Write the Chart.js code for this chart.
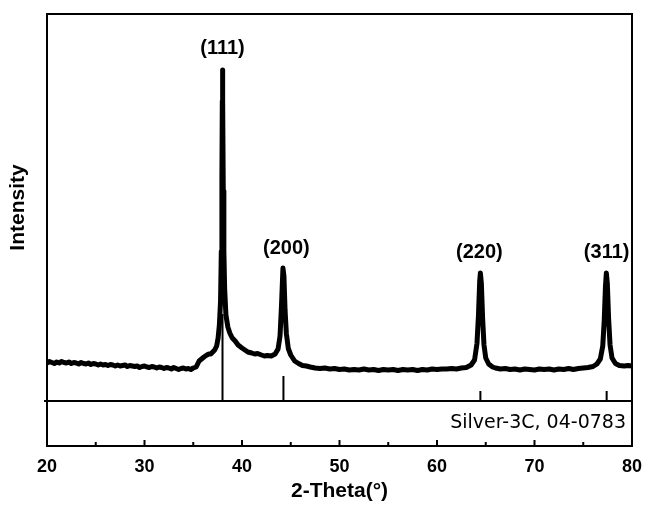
<!DOCTYPE html>
<html>
<head>
<meta charset="utf-8">
<script src="https://cdn.jsdelivr.net/npm/chart.js@4.4.1/dist/chart.umd.min.js"></script>
<style>
  html, body { margin: 0; padding: 0; background: #fff; }
  #wrap { width: 647px; height: 506px; }
</style>
</head>
<body>
<div id="wrap"><canvas id="xrd"></canvas></div>
<script>
// measured pattern (2-theta in degrees, intensity in arbitrary units)
const twoTheta = [
  20.0, 20.25, 20.5, 20.75, 21.0, 21.25, 21.5, 21.75, 22.0, 22.25, 22.5, 22.75, 23.0, 23.25, 23.5,
  23.75, 24.0, 24.25, 24.5, 24.75, 25.0, 25.25, 25.5, 25.75, 26.0, 26.25, 26.5, 26.75, 27.0, 27.25,
  27.5, 27.75, 28.0, 28.25, 28.5, 28.75, 29.0, 29.25, 29.5, 29.75, 30.0, 30.25, 30.5, 30.75, 31.0,
  31.25, 31.5, 31.75, 32.0, 32.25, 32.5, 32.75, 33.0, 33.25, 33.5, 33.75, 34.0, 34.25, 34.5, 34.75,
  35.0, 35.3, 35.6, 35.85, 36.1, 36.4, 36.6, 36.8, 37.0, 37.2, 37.4, 37.55, 37.68, 37.8, 37.88,
  37.94, 37.98, 38.0, 38.03, 38.08, 38.14, 38.22, 38.35, 38.55, 38.75, 39.0, 39.3, 39.6, 40.0, 40.3,
  40.6, 41.0, 41.3, 41.6, 42.0, 42.3, 42.6, 43.0, 43.4, 43.7, 43.9, 44.05, 44.2, 44.3, 44.42, 44.55,
  44.75, 45.0, 45.4, 45.8, 46.2, 46.6, 47.0, 47.5, 48.0, 48.5, 49.0, 49.5, 50.0, 50.5, 51.0, 51.5,
  52.0, 52.5, 53.0, 53.5, 54.0, 54.5, 55.0, 55.5, 56.0, 56.5, 57.0, 57.5, 58.0, 58.5, 59.0, 59.5,
  60.0, 60.5, 61.0, 61.5, 62.0, 62.5, 63.0, 63.5, 63.85, 64.1, 64.25, 64.38, 64.45, 64.55, 64.68,
  64.82, 65.0, 65.3, 65.7, 66.0, 66.5, 67.0, 67.5, 68.0, 68.5, 69.0, 69.5, 70.0, 70.5, 71.0, 71.5,
  72.0, 72.5, 73.0, 73.5, 74.0, 74.5, 75.0, 75.5, 76.0, 76.4, 76.75, 77.0, 77.15, 77.28, 77.37,
  77.47, 77.6, 77.75, 77.95, 78.3, 78.7, 79.2, 79.6, 80.0
];
const intensity = [
  76, 79, 77, 75, 78, 76, 79, 77, 76, 78, 75, 77, 76, 74, 77,
  75, 74, 76, 73, 75, 74, 72, 74, 72, 73, 71, 73, 72, 70, 72,
  70, 71, 72, 69, 71, 70, 69, 70, 67, 69, 70, 68, 67, 69, 68,
  66, 68, 67, 65, 67, 66, 64, 67, 65, 63, 65, 66, 64, 65, 63,
  66, 68, 80, 84, 88, 92, 94, 94, 98, 102, 110, 126, 152, 200, 300,
  450, 600, 662, 600, 420, 300, 225, 172, 148, 136, 126, 120, 112, 106, 102,
  98, 96, 94, 95, 92, 90, 91, 90, 94, 104, 130, 190, 266, 250, 180, 135,
  105, 92, 80, 75, 71, 70, 68, 66, 65, 66, 64, 65, 63, 64, 62, 63,
  62, 64, 62, 63, 61, 63, 62, 63, 61, 63, 62, 63, 61, 63, 62, 64,
  63, 64, 64, 65, 64, 66, 67, 72, 82, 115, 170, 240, 256, 235, 165,
  112, 86, 74, 68, 66, 64, 65, 63, 64, 62, 64, 63, 62, 64, 63, 64,
  62, 64, 63, 65, 63, 65, 66, 67, 69, 74, 84, 110, 160, 230, 256,
  235, 165, 112, 86, 75, 71, 70, 71, 70
];

// reference card Silver-3C, 04-0783
const refPos = [38.0, 44.25, 64.45, 77.4];
const refInt = [174, 50, 20, 20];
const refName = 'Silver-3C, 04-0783';

// peak labels
const peakLabels = ['(111)', '(200)', '(220)', '(311)'];
const peakLabelX = [38.0, 44.55, 64.35, 77.4];
const peakLabelY = [706, 306, 298, 298];

const xTicks = [20, 30, 40, 50, 60, 70, 80];

const pattern = twoTheta.map((t, i) => ({ x: t, y: intensity[i] }));
const sticks = [];
refPos.forEach((p, i) => {
  sticks.push({ x: p, y: 0 }, { x: p, y: refInt[i] }, { x: p, y: null });
});

const decor = {
  id: 'decor',
  afterDatasetsDraw(chart) {
    const { ctx, chartArea: a, scales: { x, y } } = chart;
    ctx.save();
    ctx.strokeStyle = '#000';
    ctx.fillStyle = '#000';
    ctx.lineWidth = 2;
    ctx.strokeRect(a.left, a.top, a.right - a.left, a.bottom - a.top);
    // divider between pattern and reference card
    const y0 = y.getPixelForValue(0);
    ctx.beginPath();
    ctx.moveTo(a.left - 3, y0);
    ctx.lineTo(a.right, y0);
    ctx.stroke();
    // inward ticks on the bottom axis
    for (let v = 20; v <= 80; v += 5) {
      const px = x.getPixelForValue(v);
      const len = v % 10 === 0 ? 6 : 4;
      ctx.beginPath();
      ctx.moveTo(px, a.bottom);
      ctx.lineTo(px, a.bottom - len);
      ctx.stroke();
    }
    // peak labels
    ctx.font = 'bold 20px "Liberation Sans", Arial, sans-serif';
    ctx.textAlign = 'center';
    ctx.textBaseline = 'middle';
    peakLabels.forEach((t, i) => {
      ctx.fillText(t, x.getPixelForValue(peakLabelX[i]), y.getPixelForValue(peakLabelY[i]));
    });
    // card name
    ctx.font = '19px "DejaVu Sans", sans-serif';
    ctx.textAlign = 'right';
    ctx.fillText(refName, a.right - 6, (y0 + a.bottom) / 2);
    // y title, centred on the pattern panel
    ctx.translate(18, (a.top + y0) / 2);
    ctx.rotate(-Math.PI / 2);
    ctx.font = 'bold 21px "Liberation Sans", Arial, sans-serif';
    ctx.textAlign = 'center';
    ctx.fillText('Intensity', 0, 0);
    ctx.restore();
  }
};

new Chart(document.getElementById('xrd'), {
  type: 'line',
  data: {
    datasets: [
      {
        data: pattern,
        borderColor: '#000',
        borderWidth: 5,
        borderJoinStyle: 'round',
        pointRadius: 0,
        tension: 0
      },
      {
        data: sticks,
        borderColor: '#000',
        borderWidth: 2,
        pointRadius: 0,
        spanGaps: false
      }
    ]
  },
  options: {
    responsive: true,
    maintainAspectRatio: false,
    animation: false,
    layout: { padding: { top: 14, right: 15, left: 0, bottom: 0 } },
    plugins: { legend: { display: false }, tooltip: { enabled: false } },
    scales: {
      x: {
        type: 'linear',
        min: 20,
        max: 80,
        afterBuildTicks(s) { s.ticks = xTicks.map(v => ({ value: v })); },
        afterFit(s) { s.height = 60; s.paddingLeft = 0; s.paddingRight = 0; },
        grid: { display: false, drawTicks: false },
        border: { display: false },
        ticks: {
          color: '#000',
          padding: 10,
          maxRotation: 0,
          font: { family: '"Liberation Sans", Arial, sans-serif', size: 18, weight: 'bold' }
        },
        title: {
          display: true,
          text: '2-Theta(°)',
          color: '#000',
          padding: { top: 0, bottom: 2 },
          font: { family: '"Liberation Sans", Arial, sans-serif', size: 21, weight: 'bold' }
        }
      },
      y: {
        min: -90,
        max: 774,
        afterFit(s) { s.width = 47; },
        grid: { display: false, drawTicks: false },
        border: { display: false },
        ticks: { display: false }
      }
    }
  },
  plugins: [decor]
});
</script>
</body>
</html>
